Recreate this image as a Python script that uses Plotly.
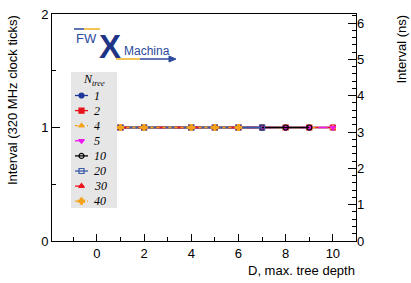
import plotly.graph_objects as go

# ---- data ----
depths = [1, 2, 4, 5, 6, 7, 8, 9, 10]
n_tree = [1, 2, 4, 5, 10, 20, 30, 40]
max_depth = [10, 10, 10, 10, 9, 7, 6, 6]
interval_ticks = [1, 1, 1, 1, 1, 1, 1, 1, 1]   # interval in 320 MHz clock ticks
clock_ns = 3.125

colors = ["#1c3799", "#e8101a", "#f5a31c", "#f019f0", "#000000", "#3a5ba8", "#f0141e", "#f5a31c"]
symbols = ["circle", "square", "triangle-up", "triangle-down", "circle-open", "square-open", "triangle-up", "cross"]
dashes = ["solid", "solid", "dot", "dash", "solid", "solid", "dash", "dot"]

# plot area in pixels
L, R, T, B = 52, 356, 14, 241
W, H = 411, 283
def px(x):
    return (x - L) / (R - L)
def py(y):
    return (B - y) / (B - T)

fig = go.Figure()
for n, md, c, s, d in zip(n_tree, max_depth, colors, symbols, dashes):
    xs = [x for x in depths if x <= md]
    ys = interval_ticks[:len(xs)]
    fig.add_trace(go.Scatter(
        x=xs, y=ys, mode="lines+markers", name=str(n), showlegend=False,
        line=dict(color=c, width=1.3, dash=d),
        marker=dict(color=c, symbol=s, size=5, line=dict(color=c, width=1.2)),
    ))
# invisible trace for right axis
fig.add_trace(go.Scatter(x=[depths[0]], y=[interval_ticks[0] * clock_ns], yaxis="y2",
                         mode="markers", marker=dict(opacity=0), showlegend=False, hoverinfo="skip"))

# ---- hand-made legend (ROOT-style TLegend) on a helper pixel-space axis ----
leg_x0, leg_x1, leg_y0, leg_y1 = 71, 117, 72, 208
row0, row_step = 95.5, 15.1
legfont = dict(family="Liberation Serif, Times New Roman", size=12, color="#000")
annotations = []
for i, (n, c, s, d) in enumerate(zip(n_tree, colors, symbols, dashes)):
    yrow = row0 + i * row_step
    fig.add_trace(go.Scatter(x=[75, 81.5, 88], y=[yrow] * 3, xaxis="x2", yaxis="y3",
                             mode="lines", line=dict(color=c, width=1.3, dash=d),
                             showlegend=False, hoverinfo="skip"))
    fig.add_trace(go.Scatter(x=[81.5], y=[yrow], xaxis="x2", yaxis="y3", mode="markers",
                             marker=dict(color=c, symbol=s, size=5, line=dict(color=c, width=1.2)),
                             showlegend=False, hoverinfo="skip"))
    annotations.append(dict(text="<i>" + str(n) + "</i>", x=px(92), y=py(yrow), xanchor="left",
                            yanchor="middle", font=legfont))
annotations.append(dict(text="<i>N</i><sub><i>tree</i></sub>", x=px(81), y=py(80), xanchor="left",
                        yanchor="middle", font=legfont))

axfont = dict(family="Liberation Sans, Arial", size=13, color="#000")
fig.update_layout(
    width=W, height=H,
    margin=dict(l=L, r=W - R, t=T, b=H - B, autoexpand=False),
    paper_bgcolor="white", plot_bgcolor="white",
    font=axfont, showlegend=False,
    xaxis=dict(range=[-1.9, 10.98], tickmode="linear", tick0=0, dtick=2, ticks="inside",
               ticklen=7, tickcolor="#000", showgrid=False, zeroline=False,
               showline=True, linecolor="#000", linewidth=1, mirror=True,
               minor=dict(dtick=1, tick0=0, ticklen=4, ticks="inside", tickcolor="#000"),
               tickfont=axfont, automargin=False),
    yaxis=dict(range=[0, 2], tickmode="linear", tick0=0, dtick=1, ticks="inside",
               ticklen=8, tickcolor="#000", showgrid=False, zeroline=False,
               showline=True, linecolor="#000", linewidth=1, mirror=True,
               minor=dict(dtick=0.5, ticklen=4, ticks="inside", tickcolor="#000"),
               tickfont=axfont, automargin=False),
    yaxis2=dict(range=[0, 2 * clock_ns], overlaying="y", side="right", tickmode="linear",
                tick0=0, dtick=1, ticks="inside", ticklen=8, tickcolor="#000",
                showgrid=False, zeroline=False, showline=False,
                minor=dict(dtick=0.2, ticklen=4, ticks="inside", tickcolor="#000"),
                tickfont=axfont, automargin=False),
    xaxis2=dict(range=[L, R], overlaying="x", visible=False, fixedrange=True),
    yaxis3=dict(range=[B, T], overlaying="y", visible=False, fixedrange=True),
)

annotations += [
    dict(text="Interval (320 MHz clock ticks)", x=px(12), y=py(13), textangle=-90,
         xanchor="center", yanchor="top", font=axfont),
    dict(text="Interval (ns)", x=px(401), y=py(13), textangle=-90,
         xanchor="center", yanchor="top", font=axfont),
    dict(text="D, max. tree depth", x=px(357), y=py(270), xanchor="right", yanchor="middle",
         font=axfont),
    dict(text="FW", x=px(86), y=py(38), xanchor="center", yanchor="middle",
         font=dict(family="Liberation Sans", size=13, color="#2d4a9c")),
    dict(text="<b>X</b>", x=px(110), y=py(46), xanchor="center", yanchor="middle",
         font=dict(family="Liberation Sans", size=33, color="#1e3486")),
    dict(text="Machina", x=px(147), y=py(51), xanchor="center", yanchor="middle",
         font=dict(family="Liberation Sans", size=12, color="#2d4a9c")),
]
for a in annotations:
    a.update(xref="paper", yref="paper", showarrow=False)
fig.update_layout(annotations=annotations)

shapes = [
    dict(type="rect", x0=px(leg_x0), y0=py(leg_y0), x1=px(leg_x1), y1=py(leg_y1),
         fillcolor="#e6e6e6", line=dict(width=0), layer="below"),
    dict(type="line", x0=px(74), y0=py(29), x1=px(84), y1=py(29), line=dict(color="#2d4a9c", width=1.5)),
    dict(type="line", x0=px(84), y0=py(29), x1=px(100), y1=py(29), line=dict(color="#f2b01e", width=1.5)),
    dict(type="line", x0=px(116), y0=py(59), x1=px(140), y1=py(59), line=dict(color="#f2b01e", width=1.5)),
    dict(type="line", x0=px(140), y0=py(59), x1=px(172), y1=py(59), line=dict(color="#2d4a9c", width=1.5)),
    dict(type="path", path=f"M {px(169)},{py(56)} L {px(176)},{py(59)} L {px(169)},{py(62)} Z",
         fillcolor="#2d4a9c", line=dict(color="#2d4a9c", width=1)),
]
for s in shapes:
    s.update(xref="paper", yref="paper")
fig.update_layout(shapes=shapes)

fig.write_html("out.html", config={"displayModeBar": False},
               post_script="document.body.style.margin='0';document.body.style.overflow='hidden';")
